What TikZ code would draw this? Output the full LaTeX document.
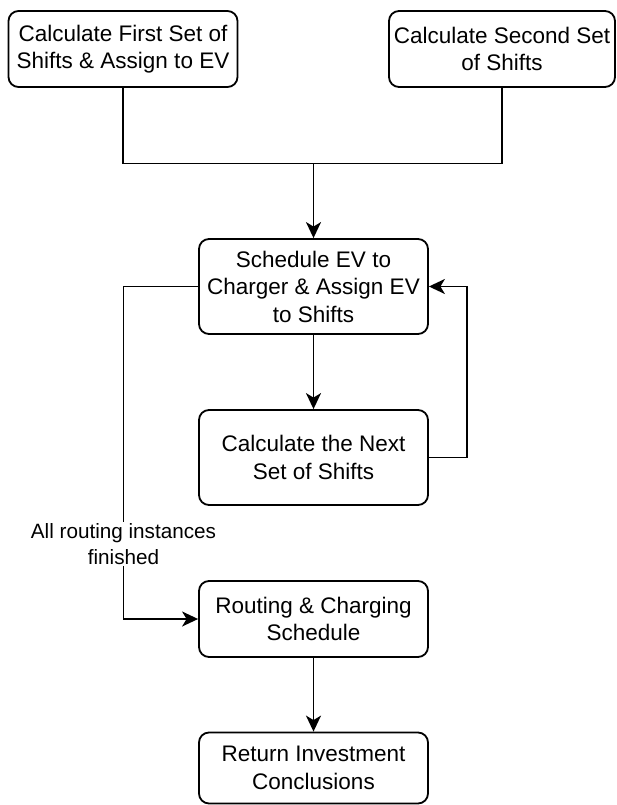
\documentclass[tikz,border=0pt]{standalone}
\usepackage{fontspec}
\setmainfont{Liberation Sans}
\usetikzlibrary{arrows.meta}
\begin{document}
\begin{tikzpicture}[x=1pt,y=-1pt,
  proc/.style={draw, line width=1.8pt, rounded corners=10pt, align=center,
    font=\fontsize{22.5}{27.5}\selectfont, inner sep=0pt, minimum width=229pt},
  flow/.style={line width=1.8pt, -{Stealth[length=16pt,width=15pt,inset=4.5pt]}},
  link/.style={line width=1.8pt},
  edgelabel/.style={fill=white, align=center, inner sep=1pt,
    font=\fontsize{20.7}{26}\selectfont}]
\useasboundingbox (0,0) rectangle (616,805);

% process boxes
\node[proc, minimum height=76pt] (first) at (123,49)
  {Calculate First Set of\\Shifts \& Assign to EV};
\node[proc, minimum width=226pt, minimum height=76pt] (second) at (502,49)
  {Calculate Second Set\\of Shifts};
\node[proc, minimum height=95pt] (sched) at (313.5,286.5)
  {Schedule EV to\\Charger \& Assign EV\\to Shifts};
\node[proc, minimum height=95pt] (next) at (313.5,457.5)
  {Calculate the Next\\Set of Shifts};
\node[proc, minimum height=76pt] (route) at (313.5,619)
  {Routing \& Charging\\Schedule};
\node[proc, minimum height=71pt] (ret) at (313.5,768)
  {Return Investment\\Conclusions};

% merge of the two initial branches
\coordinate (join) at (313.5,163.5);
\draw[link] (first.south) |- (join);
\draw[link] (second.south) |- (join);
\draw[flow] (join) -- (sched.north);

% main sequence
\draw[flow] (sched.south) -- (next.north);
\draw[flow] (route.south) -- (ret.north);

% iteration loop
\draw[flow] (next.east) -- ++(38,0) |- (sched.east);

% exit once all routing instances are done
\coordinate (lane) at (123.5,0);
\draw[flow] (sched.west) -- (sched.west -| lane) -- (route.west -| lane) -- (route.west);
\node[edgelabel] (exitlbl) at (123.5,544) {All routing instances\\finished};
\end{tikzpicture}
\end{document}
